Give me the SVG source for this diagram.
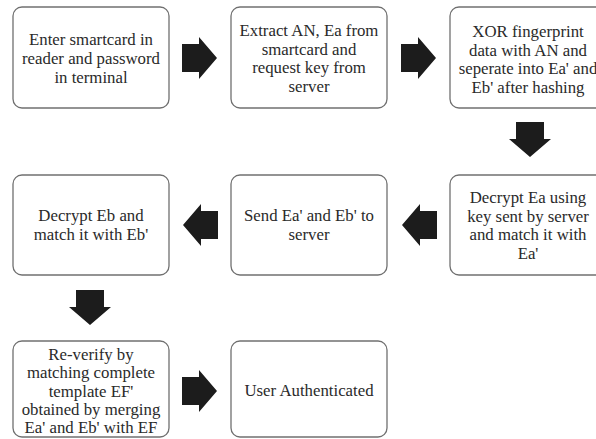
<svg xmlns="http://www.w3.org/2000/svg" width="596" height="439" viewBox="0 0 596 439">
  <style>
    .box { fill: #ffffff; stroke: #707070; stroke-width: 1.3; }
    text { font-family: "Liberation Serif", "Times New Roman", serif; font-size: 16.8px; fill: #2a2a2a; text-anchor: middle; }
    .arrow { fill: #1c1c1c; }
  </style>
  <defs>
    <!-- block arrow pointing right, tail at x=0, centred on y=0 -->
    <path id="blk" d="M0,-14 H17 V-21 L35,0 L17,21 V14 H0 Z"/>
  </defs>
  <rect width="596" height="439" fill="#ffffff"/>

  <g id="connectors">
    <use href="#blk" class="arrow" transform="translate(182,58)"/>
    <use href="#blk" class="arrow" transform="translate(401,58)"/>
    <use href="#blk" class="arrow" transform="translate(530,122) rotate(90)"/>
    <use href="#blk" class="arrow" transform="translate(437,225) rotate(180)"/>
    <use href="#blk" class="arrow" transform="translate(218,225) rotate(180)"/>
    <use href="#blk" class="arrow" transform="translate(90,290) rotate(90)"/>
    <use href="#blk" class="arrow" transform="translate(182,391)"/>
  </g>

  <g id="n1">
    <rect class="box" x="13" y="7" width="156" height="101" rx="9"/>
    <text x="91" y="45">Enter smartcard in</text>
    <text x="91" y="64">reader and password</text>
    <text x="91" y="83">in terminal</text>
  </g>
  <g id="n2">
    <rect class="box" x="231" y="7" width="156" height="101" rx="9"/>
    <text x="309" y="36">Extract AN, Ea from</text>
    <text x="309" y="54.5">smartcard and</text>
    <text x="309" y="73">request key from</text>
    <text x="309" y="91.5">server</text>
  </g>
  <g id="n3">
    <rect class="box" x="450" y="7" width="156" height="101" rx="9"/>
    <text x="528" y="37">XOR fingerprint</text>
    <text x="528" y="55.5">data with AN and</text>
    <text x="528" y="74">seperate into Ea' and</text>
    <text x="528" y="92.5">Eb' after hashing</text>
  </g>
  <g id="n4">
    <rect class="box" x="450" y="175" width="156" height="100" rx="9"/>
    <text x="528" y="203">Decrypt Ea using</text>
    <text x="528" y="221.5">key sent by server</text>
    <text x="528" y="240">and match it with</text>
    <text x="528" y="258.5">Ea'</text>
  </g>
  <g id="n5">
    <rect class="box" x="231" y="175" width="156" height="100" rx="9"/>
    <text x="309" y="221">Send Ea' and Eb' to</text>
    <text x="309" y="239.5">server</text>
  </g>
  <g id="n6">
    <rect class="box" x="13" y="175" width="156" height="100" rx="9"/>
    <text x="91" y="221">Decrypt Eb and</text>
    <text x="91" y="239.5">match it with Eb'</text>
  </g>
  <g id="n7">
    <rect class="box" x="13" y="341" width="156" height="96" rx="9"/>
    <text x="91" y="360">Re-verify by</text>
    <text x="91" y="378.3">matching complete</text>
    <text x="91" y="396.6">template EF'</text>
    <text x="91" y="414.9">obtained by merging</text>
    <text x="91" y="433.2">Ea' and Eb' with EF</text>
  </g>
  <g id="n8">
    <rect class="box" x="231" y="341" width="156" height="96" rx="9"/>
    <text x="309" y="396">User Authenticated</text>
  </g>
</svg>
